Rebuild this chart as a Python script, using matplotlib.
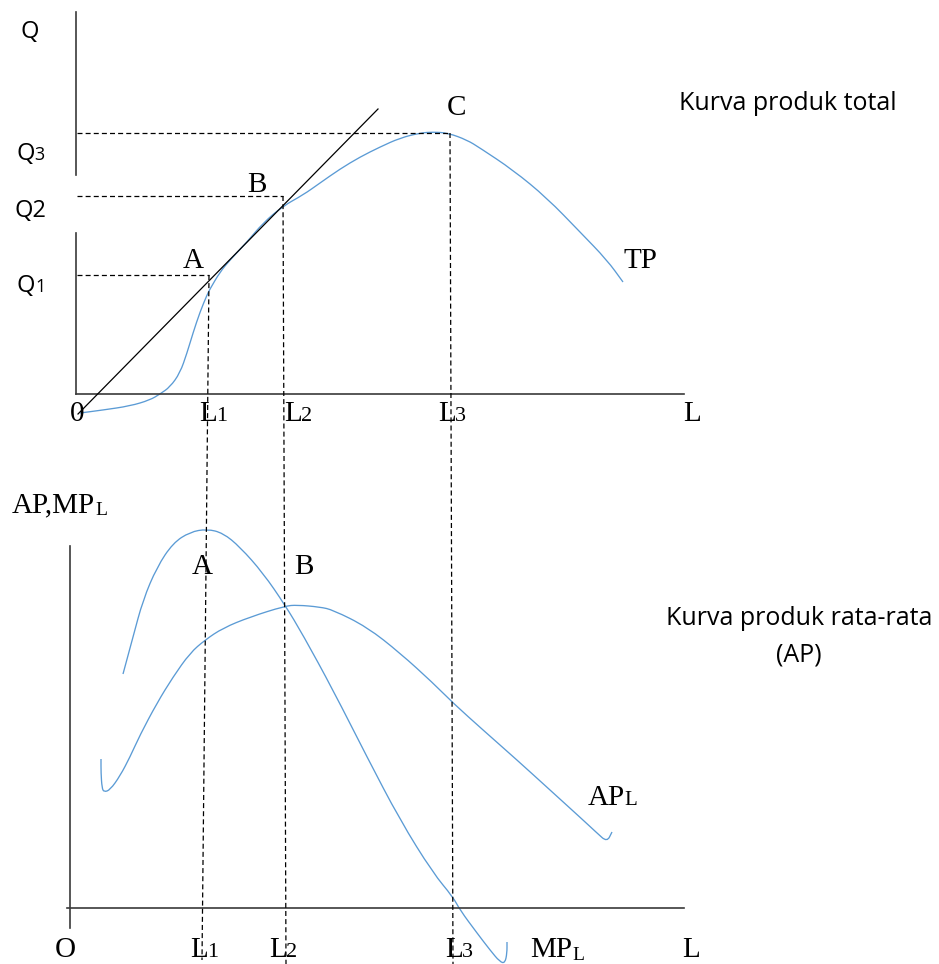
import matplotlib.pyplot as plt
from matplotlib.path import Path
from matplotlib.patches import PathPatch

# curves, in pixel coordinates of the 939x964 sheet
tp_x = [80, 103, 130, 150, 160, 170, 180, 187, 193, 200, 207, 210, 220, 230, 247, 263, 283,
        303, 320, 340, 360, 380, 400, 420, 433, 448, 467, 480, 513, 547, 580, 607, 623]
tp_y = [413, 410, 406, 400, 394, 387, 373, 353, 333, 312, 295, 289, 272, 260, 242, 223, 206,
        195, 183, 169, 157, 147, 138, 133, 132, 133, 140, 148, 170, 198, 232, 260, 282]

tan_x = [78, 378]
tan_y = [414, 109]

mp_x = [123, 133, 143, 157, 173, 190, 207, 223, 240, 263, 285, 303, 333, 367, 400, 433,
        453, 460, 477, 490, 500, 505, 507, 507]
mp_y = [674, 637, 600, 567, 543, 532, 529, 533, 547, 573, 605, 635, 690, 757, 820, 873,
        897, 910, 933, 950, 962, 963, 953, 942]

ap_x = [101, 101, 102, 104, 110, 120, 130, 140, 157, 173, 190, 205, 223, 250, 285, 297,
        320, 333, 367, 400, 433, 453, 483, 517, 550, 583, 597, 607, 612]
ap_y = [759, 773, 788, 792, 790, 776, 757, 735, 703, 677, 653, 640, 628, 617, 606, 605,
        607, 610, 627, 653, 683, 703, 730, 760, 790, 820, 833, 842, 832]

# guide lines: Q levels (y, x end) and L verticals (x top, y top, x bottom)
q_y = [275, 196, 133]
q_end = [209, 283, 450]
l_top_x = [209, 283, 450]
l_top_y = [275, 196, 133]
l_bot_x = [202, 286, 453]
l_bot_y = [960, 964, 964]

blue = "#5B9BD5"
axcol = "#3A3A3A"
serif = "Liberation Serif"
sans = "Open Sans"

fig = plt.figure(figsize=(9.39, 9.64), dpi=100)
ax = fig.add_axes([0, 0, 1, 1])
ax.set_xlim(0, 939)
ax.set_ylim(964, 0)
ax.axis("off")


def smooth(xs, ys, **kw):
    # quadratic pieces through the midpoints, the read points act as controls
    pts = list(zip(xs, ys))
    verts = [pts[0]]
    codes = [Path.MOVETO]
    mid = lambda a, b: ((a[0] + b[0]) / 2, (a[1] + b[1]) / 2)
    verts.append(mid(pts[0], pts[1]))
    codes.append(Path.LINETO)
    for i in range(1, len(pts) - 1):
        verts += [pts[i], mid(pts[i], pts[i + 1])]
        codes += [Path.CURVE3, Path.CURVE3]
    verts.append(pts[-1])
    codes.append(Path.LINETO)
    ax.add_patch(PathPatch(Path(verts, codes), fill=False, **kw))


# axes of the two diagrams
ax.plot([76, 76], [12, 175], color=axcol, lw=1.2)
ax.plot([76, 76], [233, 394], color=axcol, lw=1.2)
ax.plot([76, 684], [394, 394], color=axcol, lw=1.2)
ax.plot([70, 70], [546, 928], color=axcol, lw=1.2)
ax.plot([67, 684], [908, 908], color=axcol, lw=1.2)

# dashed guides
for y, xe in zip(q_y, q_end):
    ax.plot([77, xe], [y, y], color="black", lw=0.9, dashes=(4, 2.5))
for xt, yt, xb, yb in zip(l_top_x, l_top_y, l_bot_x, l_bot_y):
    ax.plot([xt, xb], [yt, yb], color="black", lw=0.9, dashes=(4, 2.5))

ax.plot(tan_x, tan_y, color="black", lw=0.9)
smooth(tp_x, tp_y, edgecolor=blue, lw=0.95)
smooth(mp_x, mp_y, edgecolor=blue, lw=0.95)
smooth(ap_x, ap_y, edgecolor=blue, lw=0.95)

renderer = fig.canvas.get_renderer()


def txt(x, y, s, size, fam=serif, ha="left", sub=None, subsize=None, subdy=0, kern=0):
    t = ax.text(x, y, s, fontsize=size, family=fam, ha=ha, va="baseline", color="black")
    if sub:
        x1 = t.get_window_extent(renderer).x1
        ax.text(x1 + kern, y + subdy, sub, fontsize=subsize, family=fam, ha="left",
                va="baseline", color="black")


# top diagram labels
txt(20, 38, "Q", 17, sans)
txt(16, 160, "Q", 17, sans, sub="3", subsize=13)
txt(14, 217, "Q2", 17, sans)
txt(17, 292, "Q", 17, sans, sub="1", subsize=13)
txt(193, 268, "A", 21, ha="center")
txt(257, 192, "B", 21, ha="center")
txt(457, 115, "C", 21, ha="center")
txt(623, 268, "TP", 21)
txt(70, 421, "0", 21)
for lx, s in zip([199, 284, 438], ["1", "2", "3"]):
    txt(lx, 421, "L", 21, sub=s, subsize=16, kern=-1)
txt(683, 421, "L", 21)
txt(788, 110, "Kurva produk total", 18, sans, ha="center")

# bottom diagram labels
txt(12, 512, "AP,MP", 21, sub="L", subsize=14, subdy=3)
txt(202, 574, "A", 21, ha="center")
txt(304, 574, "B", 21, ha="center")
txt(588, 805, "AP", 21, sub="L", subsize=15, kern=-1)
txt(55, 957, "O", 21)
for lx, s in zip([190, 269, 445], ["1", "2", "3"]):
    txt(lx, 957, "L", 21, sub=s, subsize=16, kern=-1)
txt(530, 957, "MP", 21, sub="L", subsize=14, subdy=3)
txt(682, 957, "L", 21)
txt(799, 625, "Kurva produk rata-rata", 18, sans, ha="center")
txt(799, 661, "(AP)", 18, sans, ha="center")

fig.savefig("out.png", dpi=100)
